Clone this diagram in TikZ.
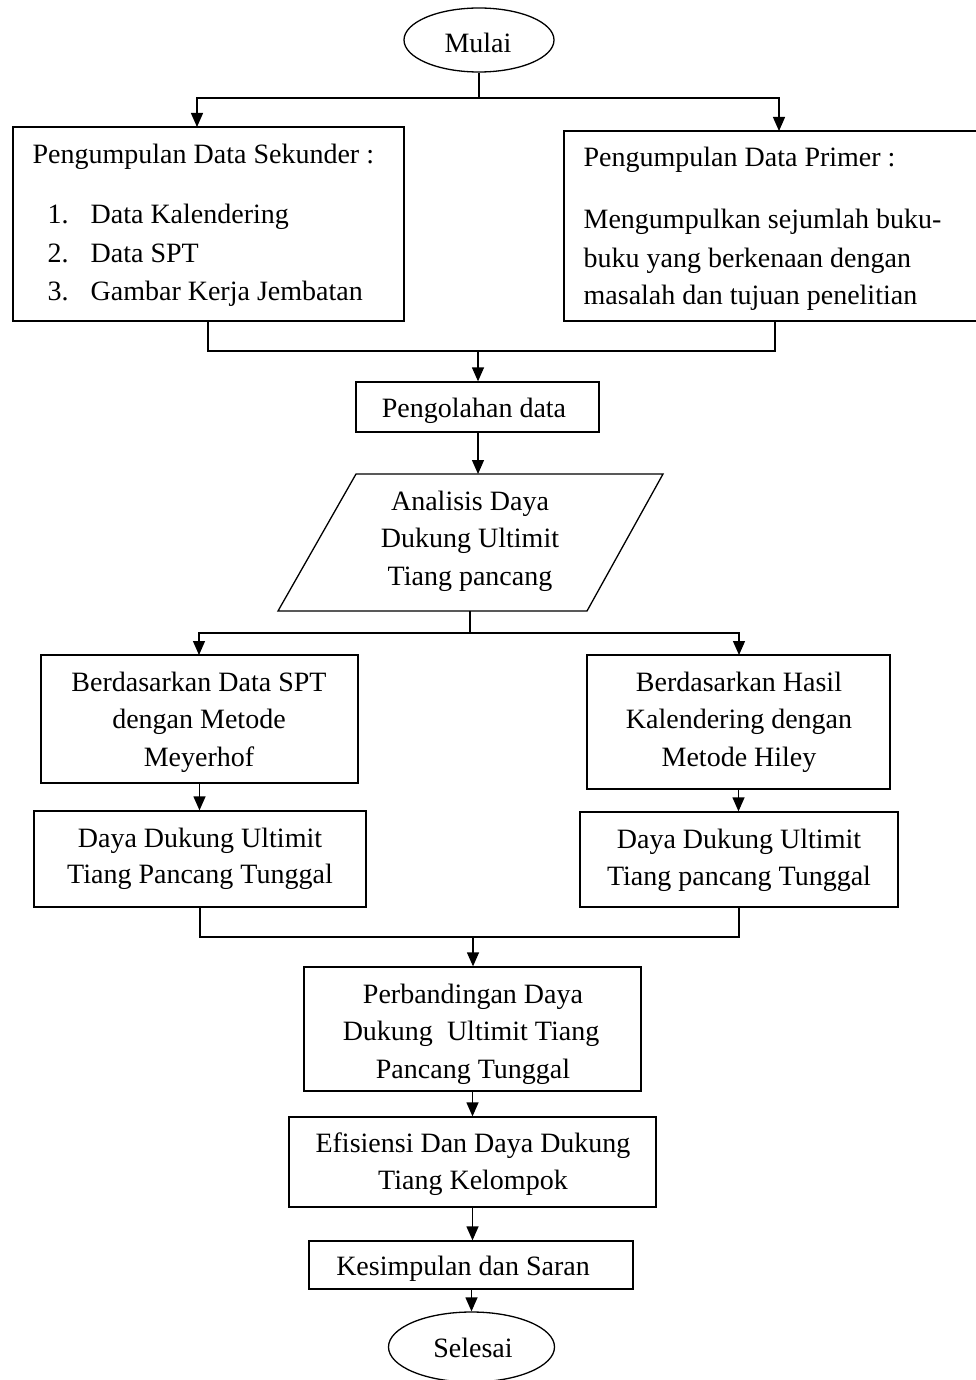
\documentclass[tikz,border=0pt]{standalone}
\usepackage{fontspec}
\setmainfont{Liberation Serif}
\usetikzlibrary{arrows.meta,shapes.geometric}
\begin{document}
\begin{tikzpicture}[x=1pt,y=-1pt,
  line width=1.3pt, line join=miter,
  box/.style={draw, rectangle, inner sep=0pt},
  oval/.style={draw, ellipse, inner sep=0pt},
  txt/.style={anchor=base, inner sep=0pt, font=\fontsize{28}{34}\selectfont},
  ltxt/.style={anchor=base west, inner sep=0pt, font=\fontsize{28}{34}\selectfont},
  arr/.style={-{Triangle[width=12pt,length=14pt]}}
]
\useasboundingbox (0,0) rectangle (976,1380);

% shapes
\node[oval, minimum width=150pt, minimum height=64pt] (mulai) at (479,40) {};
\node[box, minimum width=391pt, minimum height=194pt] (sek) at (208.5,224) {};
\node[box, minimum width=416pt, minimum height=190pt] (pri) at (772,226) {};
\node[box, minimum width=243pt, minimum height=50pt] (peng) at (477.5,407) {};
\coordinate (pa) at (356,474);
\coordinate (pb) at (663,474);
\coordinate (pc) at (587,611);
\coordinate (pd) at (278,611);
\draw (pa) -- (pb) -- (pc) -- (pd) -- cycle;
\node[box, minimum width=317pt, minimum height=128pt] (b1) at (199.5,719) {};
\node[box, minimum width=303pt, minimum height=134pt] (b2) at (738.5,722) {};
\node[box, minimum width=332pt, minimum height=96pt] (d1) at (200,859) {};
\node[box, minimum width=318pt, minimum height=95pt] (d2) at (739,859.5) {};
\node[box, minimum width=337pt, minimum height=124pt] (perb) at (472.5,1029) {};
\node[box, minimum width=367pt, minimum height=90pt] (eff) at (472.5,1162) {};
\node[box, minimum width=324pt, minimum height=48pt] (kes) at (471,1265) {};
\node[oval, minimum width=166pt, minimum height=70pt] (sel) at (471.5,1347) {};

% junction coordinates
\coordinate (j1) at (479,98);
\coordinate (sekin) at (197,127);
\coordinate (priin) at (779,131);
\coordinate (sekout) at (208,321);
\coordinate (priout) at (775,321);
\coordinate (j2) at (478,351);
\coordinate (anaT) at (478,474);
\coordinate (anaB) at (470,611);
\coordinate (j3) at (470,633);
\coordinate (b1in) at (199,655);
\coordinate (b2in) at (739,655);
\coordinate (j4) at (473,937);

% connectors
\draw[arr] (mulai.south) -- (j1) -| (sekin);
\draw[arr] (j1) -| (priin);
\draw (sekout) |- (j2);
\draw (priout) |- (j2);
\draw[arr] (j2) -- (j2 |- peng.north);
\draw[arr] (peng.south -| anaT) -- (anaT);
\draw (anaB) -- (j3);
\draw[arr] (j3) -| (b1in);
\draw[arr] (j3) -| (b2in);
\draw[arr] (b1.south) -- (b1.south |- d1.north);
\draw[arr] (b2.south) -- (b2.south |- d2.north);
\draw (d1.south) |- (j4);
\draw (d2.south) |- (j4);
\draw[arr] (j4) -- (j4 |- perb.north);
\draw[arr] (perb.south) -- (eff.north);
\draw[arr] (eff.south) -- (eff.south |- kes.north);
\draw[arr] (kes.south -| sel.north) -- (sel.north);

% texts
\node[txt] (tmulai) at (478,53) {Mulai};
\node[ltxt] (ts0) at (32,164) {Pengumpulan Data Sekunder :};
\node[ltxt] (ts1n) at (47,224) {1.};
\node[ltxt] (ts1) at (90,224) {Data Kalendering};
\node[ltxt] (ts2n) at (47,262) {2.};
\node[ltxt] (ts2) at (90,262) {Data SPT};
\node[ltxt] (ts3n) at (47,300) {3.};
\node[ltxt] (ts3) at (90,300) {Gambar Kerja Jembatan};
\node[ltxt] (tp0) at (583,167) {Pengumpulan Data Primer :};
\node[ltxt] (tp1) at (583,229) {Mengumpulkan sejumlah buku-};
\node[ltxt] (tp2) at (583,267) {buku yang berkenaan dengan};
\node[ltxt] (tp3) at (583,304) {masalah dan tujuan penelitian};
\node[txt] (tpeng) at (474,417) {Pengolahan data};
\node[txt] (ta1) at (470,510) {Analisis Daya};
\node[txt] (ta2) at (470,547) {Dukung Ultimit};
\node[txt] (ta3) at (470,585) {Tiang pancang};
\node[txt] (tb11) at (199,691) {Berdasarkan Data SPT};
\node[txt] (tb12) at (199,728) {dengan Metode};
\node[txt] (tb13) at (199,766) {Meyerhof};
\node[txt] (tb21) at (739,691) {Berdasarkan Hasil};
\node[txt] (tb22) at (739,728) {Kalendering dengan};
\node[txt] (tb23) at (739,766) {Metode Hiley};
\node[txt] (td11) at (200,847) {Daya Dukung Ultimit};
\node[txt] (td12) at (200,883) {Tiang Pancang Tunggal};
\node[txt] (td21) at (739,848) {Daya Dukung Ultimit};
\node[txt] (td22) at (739,885) {Tiang pancang Tunggal};
\node[txt] (tpe1) at (473,1003) {Perbandingan Daya};
\node[txt] (tpe2) at (471,1040) {Dukung\ \ Ultimit Tiang};
\node[txt] (tpe3) at (473,1078) {Pancang Tunggal};
\node[txt] (tef1) at (473,1152) {Efisiensi Dan Daya Dukung};
\node[txt] (tef2) at (473,1189) {Tiang Kelompok};
\node[txt] (tkes) at (463,1275) {Kesimpulan dan Saran};
\node[txt] (tsel) at (473,1357) {Selesai};
\end{tikzpicture}
\end{document}
